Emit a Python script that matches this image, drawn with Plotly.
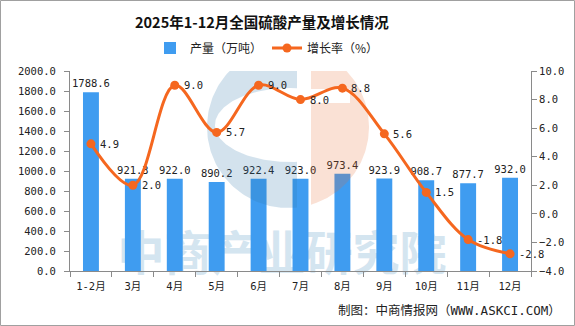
import numpy as np
import plotly.graph_objects as go

# ---- data -------------------------------------------------------------
categories = ["1-2月", "3月", "4月", "5月", "6月", "7月", "8月", "9月", "10月", "11月", "12月"]
output_wt = [1788.6, 921.3, 922.0, 890.2, 922.4, 923.0, 973.4, 923.9, 908.7, 877.7, 932.0]
growth_pct = [4.9, 2.0, 9.0, 5.7, 9.0, 8.0, 8.8, 5.6, 1.5, -1.8, -2.8]

title_text = "2025年1-12月全国硫酸产量及增长情况"
bar_name = "产量（万吨）"
line_name = "增长率（%）"
source_text = "制图：中商情报网（WWW.ASKCI.COM）"
watermark_text = "中商产业研究院"

# ---- layout constants -------------------------------------------------
W, H = 575, 326
PL, PR, PT, PB = 70, 531, 71, 271          # plot area in pixels
X_LO, X_HI = -0.5, len(categories) - 0.5
Y_LO, Y_HI = 0, 2000
Y2_LO, Y2_HI = -4, 10

BAR_COLOR = "#3F9CF0"
LINE_COLOR = "#F5671F"
AXIS_COLOR = "#8A8A8A"
NUM_FONT = "DejaVu Sans Mono, Noto Sans CJK SC"
CJK_FONT = "Noto Sans CJK SC"


def px_x(px):
    return X_LO + (px - PL) / (PR - PL) * (X_HI - X_LO)


def px_y(py):
    return Y_LO + (PB - py) / (PB - PT) * (Y_HI - Y_LO)


def paper_x(px):
    return (px - PL) / (PR - PL)


def paper_y(py):
    return (PB - py) / (PB - PT)


idx = list(range(len(categories)))

fig = go.Figure()

# bars: monthly output
fig.add_bar(
    x=idx, y=output_wt, name=bar_name, width=0.38,
    marker=dict(color=BAR_COLOR, line=dict(width=0)),
    text=[f"{v:.1f}" for v in output_wt], textposition="outside",
    textfont=dict(family=NUM_FONT, size=10.5, color="#222"),
    constraintext="none", cliponaxis=False,
)

# translucent logo emblem drawn over the bars (pixel geometry)
cx, cy, r = 288, 127, 81
ex, ey, erx, ery = 290, 125, 75, 37
cut_b, cut_o = 297, 311

tb = np.degrees(np.arccos((cut_b - cx) / r))
th = np.radians(np.linspace(tb, 360 - tb, 120))
outer = [(cx + r * np.cos(t), cy - r * np.sin(t)) for t in th]
pe = np.degrees(np.arccos((cut_b - ex) / erx))
ph = np.radians(np.linspace(360 - pe, pe, 120))
inner = [(ex + erx * np.cos(t), ey - ery * np.sin(t)) for t in ph]
blue_pts = outer + inner + [outer[0]]

to = np.degrees(np.arccos((cut_o - cx) / r))
th2 = np.radians(np.linspace(to, -to, 120))
arc = [(cx + r * np.cos(t), cy - r * np.sin(t)) for t in th2]
orange_pts = arc + [(cut_o, 103), (350, 103), (350, 89), (cut_o, 89), arc[0]]

for pts, col in ((blue_pts, "rgba(46,117,168,0.21)"), (orange_pts, "rgba(232,105,45,0.2)")):
    fig.add_scatter(
        x=[px_x(p[0]) for p in pts], y=[px_y(p[1]) for p in pts],
        mode="lines", line=dict(width=0), fill="toself", fillcolor=col,
        hoverinfo="skip", showlegend=False,
    )

# line: growth rate on the right axis
fig.add_scatter(
    x=idx, y=growth_pct, yaxis="y2", name=line_name,
    mode="lines+markers",
    line=dict(color=LINE_COLOR, width=3, shape="spline", smoothing=1),
    marker=dict(color=LINE_COLOR, size=9),
    cliponaxis=False,
)

annotations = []
for i, g in zip(idx, growth_pct):
    annotations.append(dict(
        x=i, y=g, xref="x", yref="y2", text=f"{g:.1f}", showarrow=False,
        xanchor="left", yanchor="middle", xshift=7,
        font=dict(family=NUM_FONT, size=10.5, color="#222"),
    ))

annotations.append(dict(
    x=paper_x(262), y=paper_y(22), xref="paper", yref="paper",
    text=f"<b>{title_text}</b>", showarrow=False,
    xanchor="center", yanchor="middle",
    font=dict(family=CJK_FONT, size=14.5, color="#111"),
))
annotations.append(dict(
    x=paper_x(563), y=paper_y(310), xref="paper", yref="paper",
    text=source_text, showarrow=False, xanchor="right", yanchor="middle",
    font=dict(family=NUM_FONT, size=12.5, color="#222"),
))

shapes = [
    # faint brand text behind the bars
    dict(type="rect", xref="paper", yref="paper", layer="below",
         x0=paper_x(112), x1=paper_x(452), y0=paper_y(283), y1=paper_y(231),
         line=dict(width=0), fillcolor="rgba(0,0,0,0)",
         label=dict(text=watermark_text, textposition="middle center",
                    font=dict(family=CJK_FONT, size=47, color="#D4E5F0", weight="bold"))),
    # outer frame
    dict(type="rect", xref="paper", yref="paper", layer="above",
         x0=paper_x(0.5), x1=paper_x(W - 0.5), y0=paper_y(H - 0.5), y1=paper_y(0.5),
         line=dict(color="#A0A0A0", width=1), fillcolor="rgba(0,0,0,0)"),
]

fig.update_layout(
    width=W, height=H,
    margin=dict(l=PL, r=W - PR, t=PT, b=H - PB, pad=0),
    paper_bgcolor="white", plot_bgcolor="rgba(0,0,0,0)",
    showlegend=True,
    legend=dict(
        orientation="h", x=paper_x(150), y=paper_y(48), xanchor="left", yanchor="middle",
        font=dict(family=CJK_FONT, size=12, color="#222"),
        itemwidth=30, bgcolor="rgba(0,0,0,0)", traceorder="normal",
    ),
    xaxis=dict(
        range=[X_LO, X_HI], tickmode="array", tickvals=idx, ticktext=categories,
        showline=True, linecolor=AXIS_COLOR, linewidth=1,
        ticks="outside", ticklen=5, tickcolor="rgba(0,0,0,0)",
        minor=dict(ticks="outside", ticklen=5, tickcolor=AXIS_COLOR,
                   tickmode="array", tickvals=[i - 0.5 for i in range(len(categories) + 1)]),
        showgrid=False, zeroline=False,
        tickfont=dict(family=NUM_FONT, size=10.5, color="#222"),
    ),
    yaxis=dict(
        range=[Y_LO, Y_HI], dtick=200, tickformat=".1f",
        showline=True, linecolor=AXIS_COLOR, linewidth=1,
        ticks="outside", ticklen=5, tickcolor=AXIS_COLOR,
        showgrid=False, zeroline=False, ticklabelstandoff=6,
        tickfont=dict(family=NUM_FONT, size=10.5, color="#222"),
    ),
    yaxis2=dict(
        range=[Y2_LO, Y2_HI], dtick=2, tickformat=".1f", overlaying="y", side="right",
        showline=True, linecolor=AXIS_COLOR, linewidth=1,
        ticks="outside", ticklen=5, tickcolor=AXIS_COLOR,
        showgrid=False, zeroline=False,
        tickfont=dict(family=NUM_FONT, size=10.5, color="#222"),
    ),
    annotations=annotations,
    shapes=shapes,
    hovermode=False,
)

fig.write_html("out.html")
